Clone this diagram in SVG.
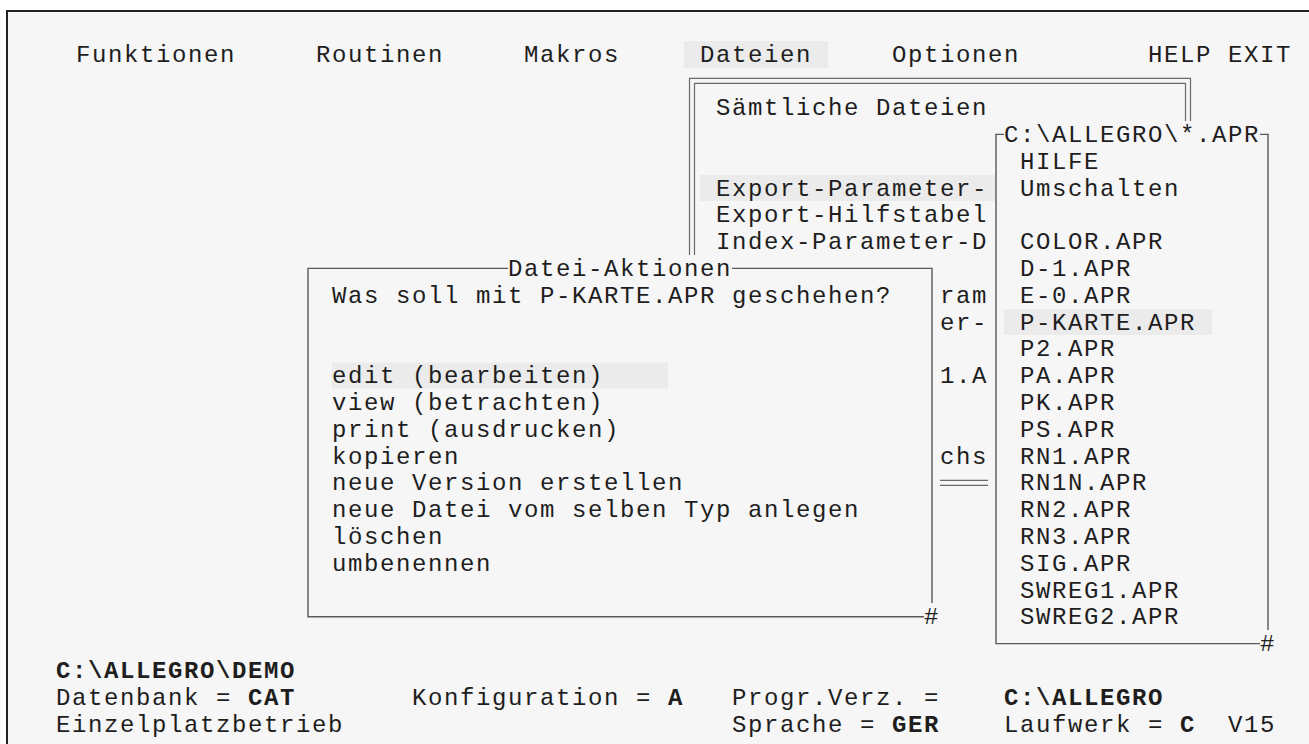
<svg xmlns="http://www.w3.org/2000/svg" width="1309" height="744" viewBox="0 0 1309 744">
<style>
.t{font-family:"Liberation Mono","Courier New",monospace;font-size:24px;letter-spacing:1.6px;fill:#1e1e1e}
.b{font-weight:bold}
.ln{stroke:#5a5a5a;stroke-width:1.4;fill:none}
.dl{stroke:#6a6a6a;stroke-width:1.2;fill:none}
.hl{fill:#ebebeb}
</style>
<rect x="0" y="0" width="1309" height="744" fill="#ffffff"/>
<g id="frame">
<rect x="7" y="11" width="1340" height="760" fill="#f6f6f6" stroke="#222" stroke-width="2"/>
</g>
<g id="menubar">
<rect class="hl" x="684" y="41" width="144" height="27"/>
<text class="t" x="76" y="61.5">Funktionen</text>
<text class="t" x="316" y="61.5">Routinen</text>
<text class="t" x="524" y="61.5">Makros</text>
<text class="t" x="700" y="61.5">Dateien</text>
<text class="t" x="892" y="61.5">Optionen</text>
<text class="t" x="1148" y="61.5">HELP</text>
<text class="t" x="1228" y="61.5">EXIT</text>
</g>
<g id="box-dateien">
<path class="dl" d="M689.5 255 V78.3 H1190.5 V121 M694.5 255 V83.3 H1185.5 V121"/>
<path class="dl" d="M940 480.3 H988 M940 485.3 H988"/>
<rect class="hl" x="700" y="175" width="296" height="26"/>
<text class="t" x="716" y="115.1">Sämtliche Dateien</text>
<text class="t" x="716" y="195.5">Export-Parameter-</text>
<text class="t" x="716" y="222.3">Export-Hilfstabel</text>
<text class="t" x="716" y="249.1">Index-Parameter-D</text>
<text class="t" x="940" y="302.7">ram</text>
<text class="t" x="940" y="329.5">er-</text>
<text class="t" x="940" y="383.1">1.A</text>
<text class="t" x="940" y="463.5">chs</text>
</g>
<g id="dialog-aktionen">
<path class="ln" d="M508 268.4 H308 V616.8 H924 M732 268.4 H932 V603"/>
<rect class="hl" x="332" y="362.6" width="336" height="26"/>
<text class="t" x="508" y="275.9">Datei-Aktionen</text>
<text class="t" x="332" y="302.7">Was soll mit P-KARTE.APR geschehen?</text>
<text class="t" x="332" y="383.1">edit (bearbeiten)</text>
<text class="t" x="332" y="409.9">view (betrachten)</text>
<text class="t" x="332" y="436.7">print (ausdrucken)</text>
<text class="t" x="332" y="463.5">kopieren</text>
<text class="t" x="332" y="490.3">neue Version erstellen</text>
<text class="t" x="332" y="517.1">neue Datei vom selben Typ anlegen</text>
<text class="t" x="332" y="543.9">löschen</text>
<text class="t" x="332" y="570.7">umbenennen</text>
<text class="t" x="924" y="624.3">#</text>
</g>
<g id="box-files">
<path class="ln" d="M1004 134.4 H996 V643.6 H1260 M1260 134.4 H1268 V630"/>
<rect class="hl" x="1004" y="309" width="208" height="26"/>
<text class="t" x="1004" y="141.9">C:\ALLEGRO\*.APR</text>
<text class="t" x="1020" y="168.7">HILFE</text>
<text class="t" x="1020" y="195.5">Umschalten</text>
<text class="t" x="1020" y="249.1">COLOR.APR</text>
<text class="t" x="1020" y="275.9">D-1.APR</text>
<text class="t" x="1020" y="302.7">E-0.APR</text>
<text class="t" x="1020" y="329.5">P-KARTE.APR</text>
<text class="t" x="1020" y="356.3">P2.APR</text>
<text class="t" x="1020" y="383.1">PA.APR</text>
<text class="t" x="1020" y="409.9">PK.APR</text>
<text class="t" x="1020" y="436.7">PS.APR</text>
<text class="t" x="1020" y="463.5">RN1.APR</text>
<text class="t" x="1020" y="490.3">RN1N.APR</text>
<text class="t" x="1020" y="517.1">RN2.APR</text>
<text class="t" x="1020" y="543.9">RN3.APR</text>
<text class="t" x="1020" y="570.7">SIG.APR</text>
<text class="t" x="1020" y="597.5">SWREG1.APR</text>
<text class="t" x="1020" y="624.3">SWREG2.APR</text>
<text class="t" x="1260" y="651.1">#</text>
</g>
<g id="statusbar">
<text class="t b" x="56" y="677.9">C:\ALLEGRO\DEMO</text>
<text class="t" x="56" y="704.7">Datenbank =</text>
<text class="t b" x="248" y="704.7">CAT</text>
<text class="t" x="412" y="704.7">Konfiguration =</text>
<text class="t b" x="668" y="704.7">A</text>
<text class="t" x="732" y="704.7">Progr.Verz. =</text>
<text class="t b" x="1004" y="704.7">C:\ALLEGRO</text>
<text class="t" x="56" y="731.5">Einzelplatzbetrieb</text>
<text class="t" x="732" y="731.5">Sprache =</text>
<text class="t b" x="892" y="731.5">GER</text>
<text class="t" x="1004" y="731.5">Laufwerk =</text>
<text class="t b" x="1180" y="731.5">C</text>
<text class="t" x="1228" y="731.5">V15</text>
</g>
</svg>
